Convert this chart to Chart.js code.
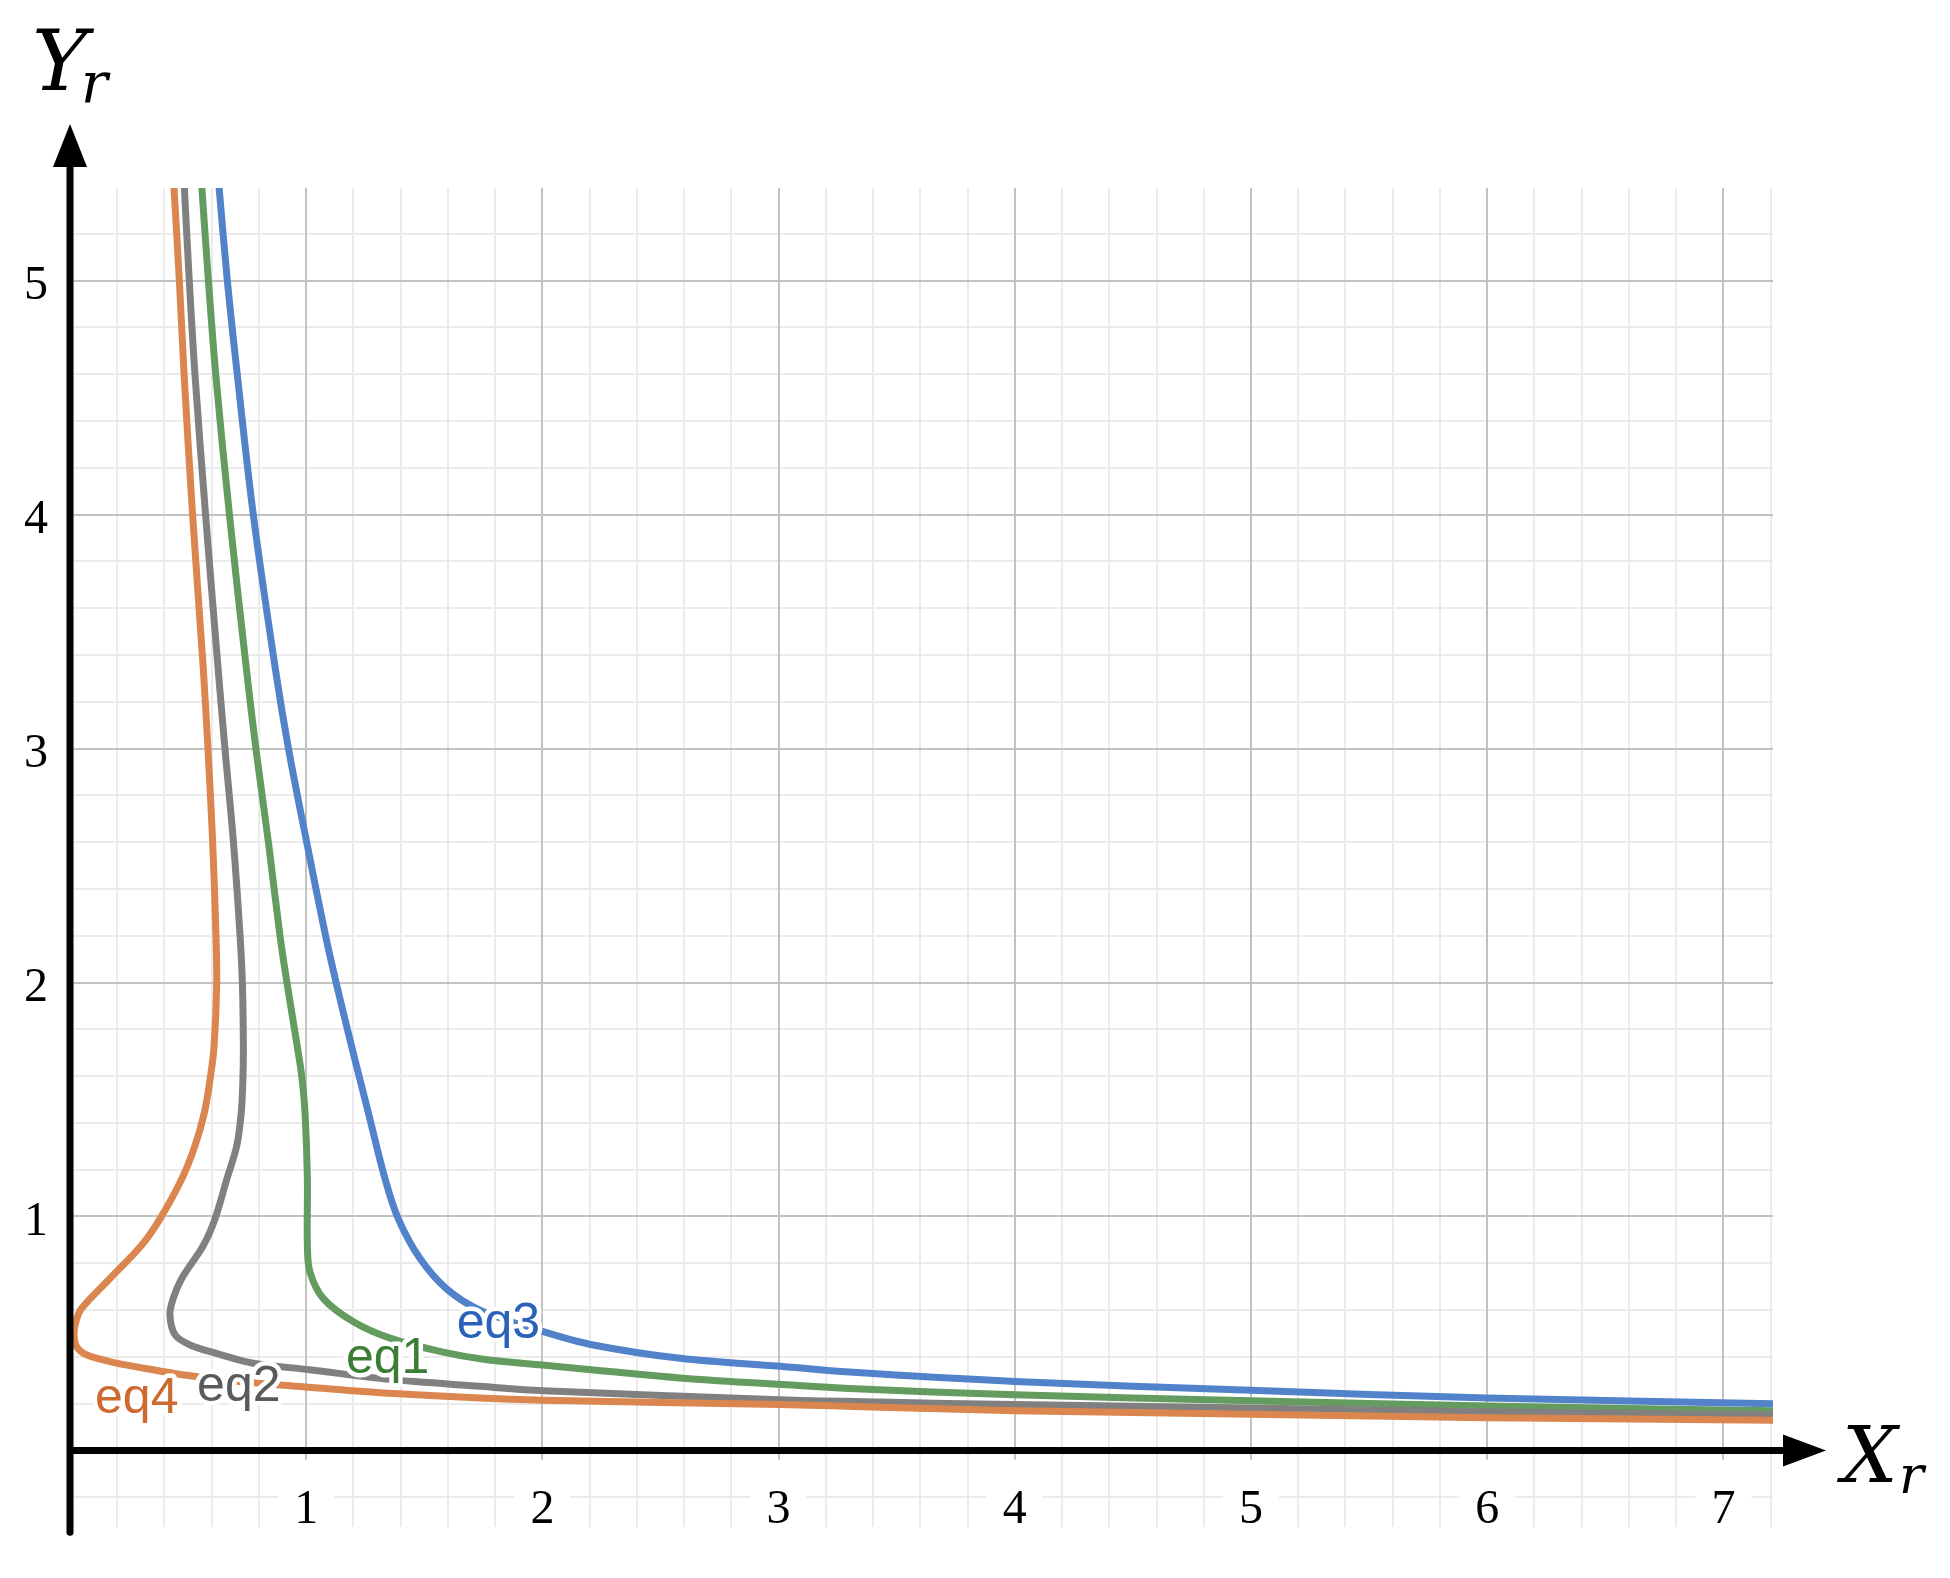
<!DOCTYPE html>
<html>
<head>
<meta charset="utf-8">
<script src="https://cdn.jsdelivr.net/npm/chart.js@4.4.1/dist/chart.umd.min.js"></script>
<style>
html, body { margin: 0; padding: 0; background: #fff; }
#wrap { width: 1950px; height: 1578px; }
</style>
</head>
<body>
<div id="wrap"><canvas id="chart"></canvas></div>
<script>
// axis ranges (reduced coordinates)
const xRange = [0, 7.21];
const yRange = [-0.328, 5.396];

// curves, ordered along each curve (top -> right end)
const eq1X = [0.558, 0.586, 0.617, 0.675, 0.748, 0.787, 0.84, 0.889, 0.92, 0.962, 0.981, 0.995, 1.005, 1.005, 1.016, 1.072, 1.2, 1.355, 1.58, 1.75, 2.0, 2.58, 3.0, 3.3, 4.0, 5.0, 6.0, 7.21];
const eq1Y = [5.4, 5.0, 4.6, 4.0, 3.33, 3.0, 2.6, 2.2, 1.99, 1.728, 1.6, 1.444, 1.16, 0.877, 0.763, 0.65, 0.55, 0.48, 0.42, 0.39, 0.365, 0.31, 0.283, 0.265, 0.238, 0.213, 0.19, 0.17];

const eq2X = [0.484, 0.505, 0.529, 0.574, 0.628, 0.656, 0.692, 0.72, 0.73, 0.734, 0.732, 0.725, 0.706, 0.664, 0.614, 0.565, 0.473, 0.437, 0.423, 0.445, 0.508, 0.62, 0.776, 1.016, 1.34, 1.736, 2.004, 3.006, 3.43, 4.0, 5.0, 6.0, 7.21];
const eq2Y = [5.4, 5.0, 4.6, 4.0, 3.33, 3.0, 2.6, 2.2, 1.99, 1.728, 1.586, 1.444, 1.302, 1.16, 0.99, 0.877, 0.735, 0.65, 0.579, 0.494, 0.451, 0.415, 0.373, 0.345, 0.305, 0.274, 0.255, 0.217, 0.207, 0.196, 0.182, 0.165, 0.153];

const eq3X = [0.631, 0.666, 0.708, 0.776, 0.871, 0.925, 1.002, 1.082, 1.129, 1.192, 1.224, 1.263, 1.334, 1.39, 1.482, 1.595, 1.736, 2.004, 2.215, 2.583, 3.006, 3.3, 4.0, 5.0, 6.0, 7.21];
const eq3Y = [5.4, 5.0, 4.6, 4.0, 3.33, 3.0, 2.6, 2.2, 1.99, 1.728, 1.6, 1.444, 1.16, 0.99, 0.82, 0.69, 0.6, 0.508, 0.451, 0.394, 0.36, 0.335, 0.295, 0.257, 0.224, 0.2];

const eq4X = [0.44, 0.463, 0.483, 0.519, 0.565, 0.584, 0.604, 0.618, 0.621, 0.61, 0.593, 0.569, 0.529, 0.473, 0.381, 0.303, 0.169, 0.049, 0.025, 0.017, 0.028, 0.07, 0.169, 0.31, 0.437, 0.663, 1.009, 1.312, 1.736, 2.004, 3.006, 3.43, 4.0, 5.0, 6.0, 7.21];
const eq4Y = [5.4, 5.0, 4.6, 4.0, 3.33, 3.0, 2.6, 2.2, 1.99, 1.728, 1.586, 1.444, 1.302, 1.16, 0.99, 0.877, 0.735, 0.607, 0.55, 0.494, 0.444, 0.409, 0.38, 0.352, 0.33, 0.3, 0.27, 0.247, 0.224, 0.215, 0.196, 0.185, 0.17, 0.155, 0.14, 0.129];

// curve labels and where they sit (data coords of the text's left baseline)
const curveNames = ['eq4', 'eq2', 'eq1', 'eq3'];
const labelAtX = [0.106, 0.538, 1.168, 1.637];
const labelAtY = [0.16, 0.21, 0.331, 0.48];
const labelColors = ['#cc6a30', '#5a5a5a', '#3b7d33', '#2a62b8'];

function pts(xs, ys) {
  return xs.map((v, i) => ({x: v, y: ys[i]}));
}

function lineSet(label, xs, ys, color) {
  return {
    label: label,
    data: pts(xs, ys),
    borderColor: color,
    backgroundColor: color,
    borderWidth: 7,
    borderJoinStyle: 'round',
    borderCapStyle: 'round',
    pointRadius: 0,
    pointHoverRadius: 0,
    tension: 0.35,
    fill: false
  };
}

const serif = '"Liberation Serif", "Times New Roman", serif';
const mathFont = '"DejaVu Serif", serif';

// put a glyph so that its ink starts at left / sits on baseline
function glyphAt(ctx, text, left, baseline) {
  const m = ctx.measureText(text);
  ctx.fillText(text, left + m.actualBoundingBoxLeft, baseline);
}

// axes with arrow heads, axis names and curve labels
const decor = {
  id: 'decor',
  afterDatasetsDraw(chart) {
    const {ctx, scales: {x, y}} = chart;
    ctx.save();
    ctx.font = '50px "Liberation Sans", Arial, sans-serif';
    ctx.textAlign = 'left';
    ctx.textBaseline = 'alphabetic';
    ctx.lineJoin = 'round';
    ctx.lineWidth = 9;
    ctx.strokeStyle = '#fff';
    curveNames.forEach((name, i) => {
      const px = x.getPixelForValue(labelAtX[i]);
      const py = y.getPixelForValue(labelAtY[i]);
      ctx.strokeText(name, px, py);
      ctx.fillStyle = labelColors[i];
      ctx.fillText(name, px, py);
    });
    ctx.restore();
  },
  afterDraw(chart) {
    const {ctx, chartArea, scales: {x, y}} = chart;
    const x0 = x.getPixelForValue(0);
    const y0 = y.getPixelForValue(0);
    ctx.save();
    ctx.strokeStyle = '#000';
    ctx.fillStyle = '#000';
    ctx.lineWidth = 7;

    // y axis
    ctx.lineCap = 'round';
    ctx.beginPath();
    ctx.moveTo(x0, chartArea.bottom + 5);
    ctx.lineTo(x0, chartArea.top - 25);
    ctx.stroke();
    ctx.beginPath();
    ctx.moveTo(x0, chartArea.top - 64);
    ctx.lineTo(x0 - 17, chartArea.top - 21);
    ctx.lineTo(x0 + 17, chartArea.top - 21);
    ctx.closePath();
    ctx.fill();

    // x axis
    ctx.lineCap = 'butt';
    ctx.beginPath();
    ctx.moveTo(x0 - 3, y0);
    ctx.lineTo(chartArea.right + 15, y0);
    ctx.stroke();
    ctx.beginPath();
    ctx.moveTo(chartArea.right + 53, y0);
    ctx.lineTo(chartArea.right + 10, y0 - 16);
    ctx.lineTo(chartArea.right + 10, y0 + 16);
    ctx.closePath();
    ctx.fill();

    // axis names
    ctx.textAlign = 'left';
    ctx.textBaseline = 'alphabetic';
    ctx.font = 'italic 84px ' + mathFont;
    glyphAt(ctx, 'Y', 36, 90);
    ctx.font = 'italic 56px ' + mathFont;
    glyphAt(ctx, 'r', 84, 102);
    ctx.font = 'italic 78px ' + mathFont;
    glyphAt(ctx, 'X', 1836, 1482);
    ctx.font = 'italic 52px ' + mathFont;
    glyphAt(ctx, 'r', 1902, 1493);
    ctx.restore();
  }
};

const ctx = document.getElementById('chart');

new Chart(ctx, {
  type: 'line',
  data: {
    datasets: [
      lineSet('eq4', eq4X, eq4Y, 'rgb(218,134,78)'),
      lineSet('eq3', eq3X, eq3Y, 'rgb(82,131,202)'),
      lineSet('eq2', eq2X, eq2Y, 'rgb(128,128,128)'),
      lineSet('eq1', eq1X, eq1Y, 'rgb(100,155,95)')
    ]
  },
  options: {
    responsive: true,
    maintainAspectRatio: false,
    animation: false,
    devicePixelRatio: 1,
    layout: { padding: { top: 188, right: 177, left: 0, bottom: 0 } },
    plugins: {
      legend: { display: false },
      tooltip: { enabled: false }
    },
    scales: {
      xMinor: {
        type: 'linear', axis: 'x', position: 'bottom',
        min: xRange[0], max: xRange[1],
        ticks: { display: false, stepSize: 0.2, includeBounds: false, maxTicksLimit: 100 },
        grid: { color: '#ebebeb', lineWidth: 2, drawTicks: false, z: -2 },
        border: { display: false },
        afterFit: (s) => { s.height = 0; }
      },
      yMinor: {
        type: 'linear', axis: 'y', position: 'left',
        min: yRange[0], max: yRange[1],
        ticks: { display: false, stepSize: 0.2, includeBounds: false, maxTicksLimit: 100 },
        grid: { color: '#ebebeb', lineWidth: 2, drawTicks: false, z: -2 },
        border: { display: false },
        afterFit: (s) => { s.width = 0; }
      },
      x: {
        type: 'linear', position: 'bottom',
        min: xRange[0], max: xRange[1],
        ticks: {
          stepSize: 1, includeBounds: false, autoSkip: false, maxRotation: 0,
          mirror: true,
          padding: -12,
          color: '#000',
          font: { family: serif, size: 48 },
          showLabelBackdrop: true,
          backdropColor: '#fff',
          backdropPadding: { x: 16, y: 22 }
        },
        grid: { color: '#c2c2c2', lineWidth: 2, drawTicks: false, z: -1 },
        border: { display: false },
        afterBuildTicks: (s) => { s.ticks = s.ticks.filter(t => t.value !== 0); },
        afterFit: (s) => { s.height = 45; }
      },
      y: {
        type: 'linear', position: 'left',
        min: yRange[0], max: yRange[1],
        ticks: {
          stepSize: 1, includeBounds: false, autoSkip: false,
          padding: 22,
          labelOffset: 6,
          color: '#000',
          font: { family: serif, size: 48 }
        },
        grid: { color: '#c2c2c2', lineWidth: 2, drawTicks: false, z: -1 },
        border: { display: false },
        afterBuildTicks: (s) => { s.ticks = s.ticks.filter(t => t.value !== 0); },
        afterFit: (s) => { s.width = 70; }
      }
    }
  },
  plugins: [decor]
});
</script>
</body>
</html>
